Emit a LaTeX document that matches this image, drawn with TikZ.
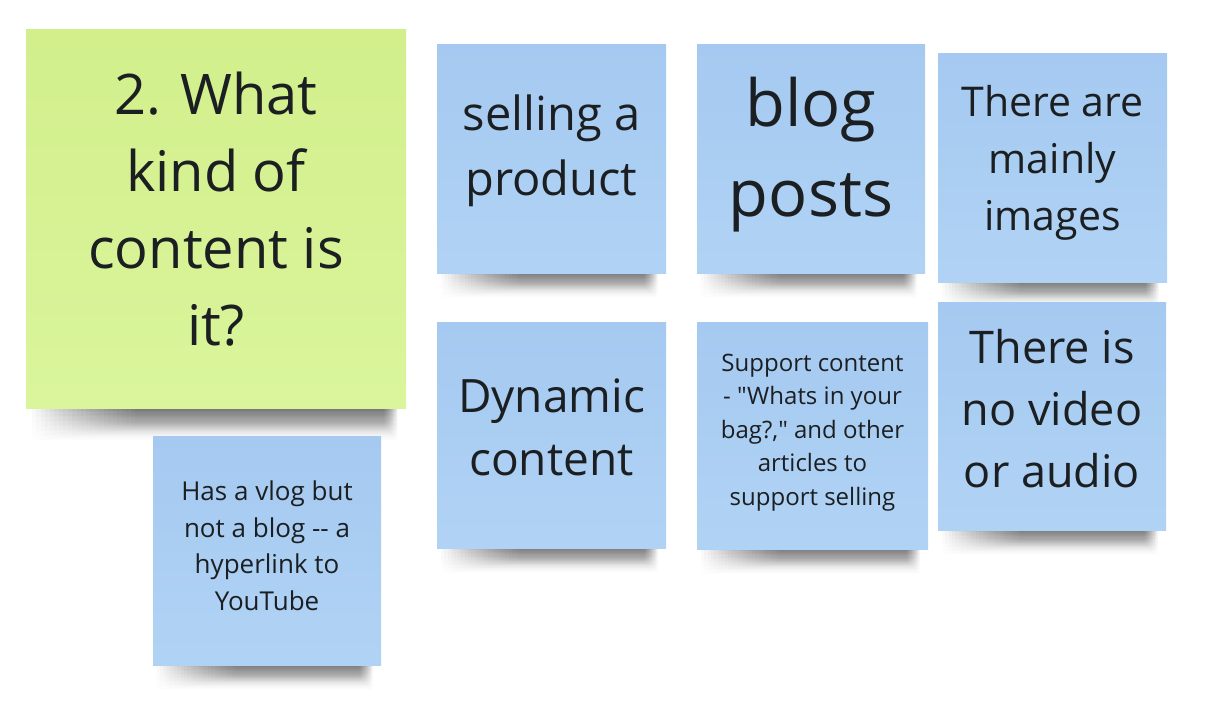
\documentclass[tikz,border=0pt]{standalone}
\usepackage{fontspec}
\setmainfont{Open Sans}[Ligatures=TeXOff]
\usetikzlibrary{backgrounds,calc,fadings}
\definecolor{bluetop}{HTML}{A5C9F0}
\definecolor{bluebot}{HTML}{B0D3F5}
\definecolor{greentop}{HTML}{D2EF8C}
\definecolor{greenbot}{HTML}{DAF59B}
\definecolor{ink}{HTML}{1C1F22}
\tikzfading[name=shadowfade, top color=transparent!0, bottom color=transparent!100]
\tikzset{
  sticky/.style={rectangle, inner sep=0pt, minimum width=229pt, minimum height=229pt},
  bluenote/.style={sticky, top color=bluetop, bottom color=bluebot},
  greennote/.style={sticky, top color=greentop, bottom color=greenbot, minimum width=380pt, minimum height=379pt},
  notetext/.style={inner sep=0pt, align=center, text=ink},
  shadowlayer/.style={fill=black, opacity=0.032, path fading=shadowfade}
}
\newcommand{\fs}[2]{\fontsize{#1}{#2}\selectfont}
\begin{document}
\begin{tikzpicture}[x=1pt,y=-1pt]
\useasboundingbox (0,0) rectangle (1208,728);
% sticky notes
\node[greennote] (qn) at (216,219) {};
\node[bluenote] (selln) at (551.5,158.5) {};
\node[bluenote, minimum width=228pt] (blogn) at (811,158.5) {};
\node[bluenote] (imgn) at (1052.5,167.5) {};
\node[bluenote, minimum height=226pt] (dynn) at (551.5,435) {};
\node[bluenote, minimum width=231pt, minimum height=227pt] (supn) at (812.5,435.5) {};
\node[bluenote, minimum width=228pt, minimum height=228pt] (vidn) at (1052,416) {};
\node[bluenote, minimum width=228pt] (vlogn) at (267,550.5) {};
% texts
\node[notetext, font=\fs{56}{77}] (q) at ($(qn.center)+(0,-10)$) {2. What\\kind of\\content is\\it?};
\node[notetext, font=\fs{47}{65}] (sell) at ($(selln.center)+(0,-8)$) {selling a\\product};
\node[notetext, font=\fs{65}{90}] (blog) at ($(blogn.center)+(0,-4)$) {blog\\posts};
\node[notetext, font=\fs{41}{57}] (img) at ($(imgn.center)+(0,-5)$) {There are\\mainly\\images};
\node[notetext, font=\fs{46}{63}] (dyn) at ($(dynn.center)+(0,-8)$) {Dynamic\\content};
\node[notetext, font=\fs{24}{33.5}] (sup) at ($(supn.center)+(0,-3)$) {Support content\\- "Whats in your\\bag?," and other\\articles to\\support selling};
\node[notetext, font=\fs{45}{62}] (vid) at ($(vidn.center)+(0,-7)$) {There is\\no video\\or audio};
\node[notetext, font=\fs{26}{36.5}] (vlog) at ($(vlogn.center)+(0,-5)$) {Has a vlog but\\not a blog -- a\\hyperlink to\\YouTube};
% shadows
\begin{scope}[on background layer]
  \fill[white] (0,0) rectangle (1208,728);
  \foreach \n in {selln,blogn,imgn,dynn,supn,vidn,vlogn} {
    \foreach \k in {0,...,23} {
      \fill[shadowlayer] ($(\n.south west)+(4+3.4*\k,-4)$) rectangle ($(\n.south east)+(-8-0.6*\k,26-0.5*\k)$);
    }
  }
  \foreach \k in {0,...,23} {
    \fill[shadowlayer] ($(qn.south west)+(6+4.5*\k,-4)$) rectangle ($(qn.south east)+(-8-0.6*\k,34-0.6*\k)$);
  }
\end{scope}
\end{tikzpicture}
\end{document}
